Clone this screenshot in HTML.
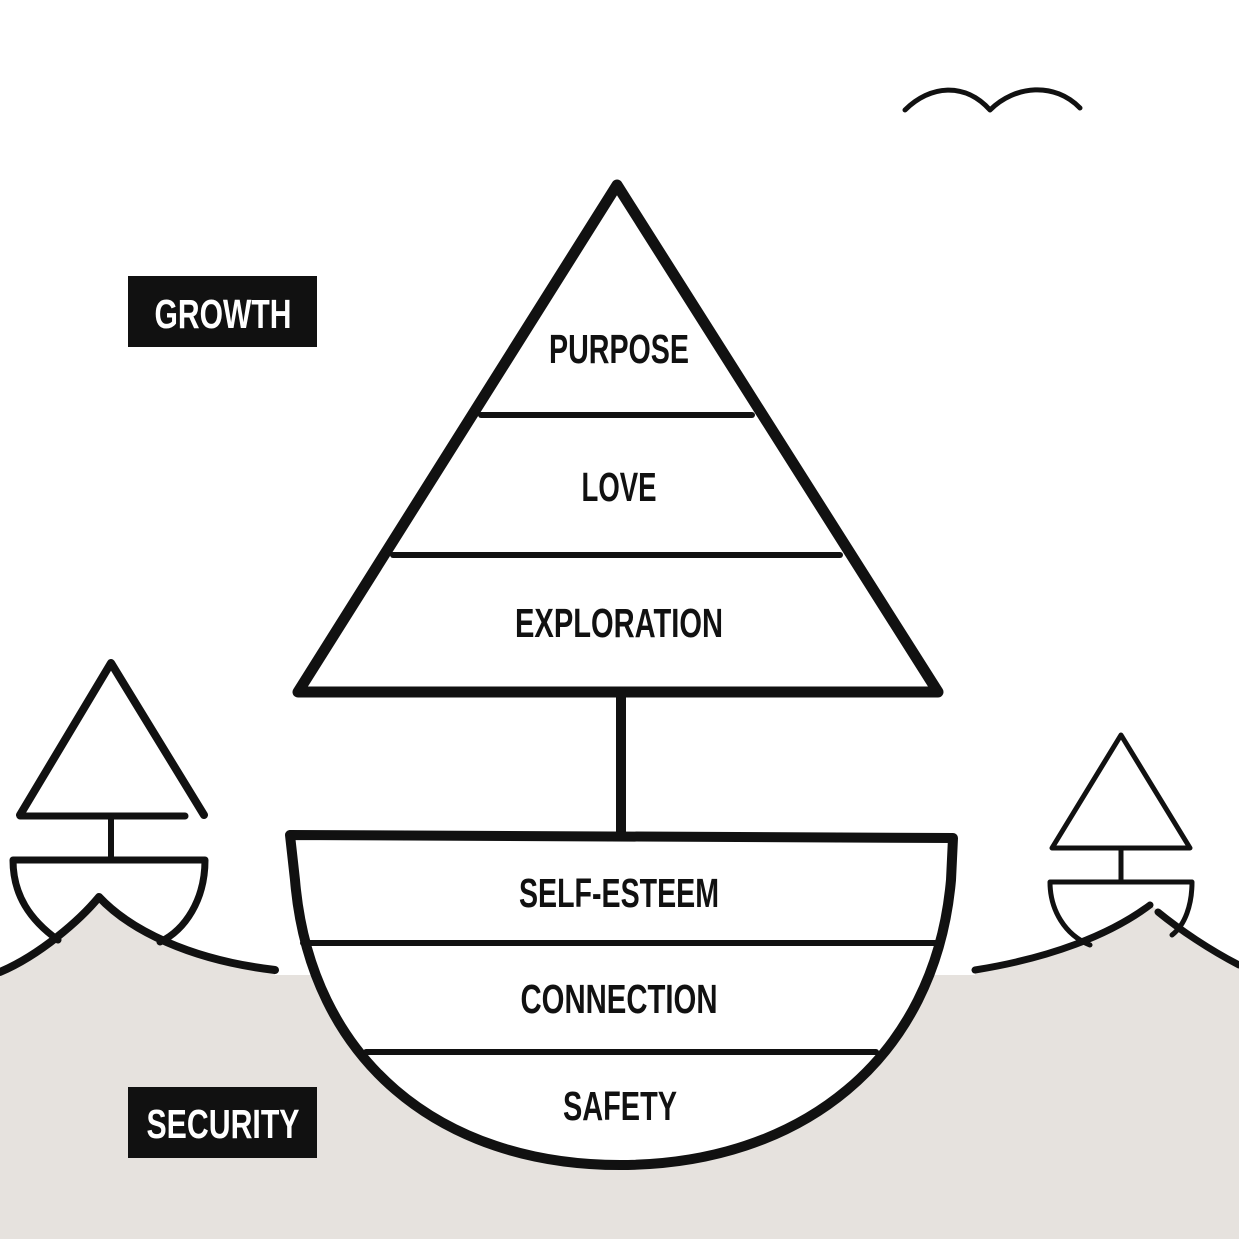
<!DOCTYPE html>
<html><head><meta charset="utf-8"><style>
html,body{margin:0;padding:0;background:#fff;}
svg{display:block}
text{font-family:"Liberation Sans Narrow","Liberation Sans",sans-serif;font-weight:bold;font-size:41px;}
</style></head><body>
<svg width="1239" height="1239" viewBox="0 0 1239 1239" xmlns="http://www.w3.org/2000/svg">
<rect width="1239" height="1239" fill="#fff"/>
<!-- beige ground -->
<rect x="0" y="975" width="1239" height="264" fill="#e6e2de"/>
<path d="M0,972 C40,955 80,920 99,897 C130,930 190,960 275,970 L275,980 L0,980Z" fill="#e6e2de"/>
<path d="M975,970 C1050,958 1110,935 1150,905 L1158,910 C1180,930 1210,950 1239,965 L1239,980 L975,980Z" fill="#e6e2de"/>
<g fill="none" stroke="#111" stroke-linecap="round" stroke-linejoin="round">
<!-- birds -->
<path d="M905,110 C930,85 965,82 990,110 C1015,85 1055,82 1080,108" stroke-width="5"/>
<!-- big triangle -->
<path d="M617,185 L298,692 L938,692 Z" stroke-width="11"/>
<line x1="481" y1="415" x2="752" y2="415" stroke-width="6"/>
<line x1="393" y1="555" x2="840" y2="555" stroke-width="6"/>
<line x1="621" y1="692" x2="621" y2="835" stroke-width="10"/>
<!-- bowl -->
<path d="M290,835 L953,838 L951,880 C935,1060 800,1165 620,1165 C440,1165 310,1060 295,880 Z" fill="#fff" stroke-width="10"/>
<line x1="303" y1="943" x2="940" y2="943" stroke-width="6"/>
<line x1="366" y1="1052" x2="876" y2="1052" stroke-width="6"/>
<!-- left boat -->
<path d="M20,815 L111,663 L204,815" stroke-width="8"/>
<line x1="20" y1="816" x2="185" y2="816" stroke-width="7"/>
<line x1="111" y1="816" x2="111" y2="860" stroke-width="6"/>
<path d="M13,860 L205,860 C205,900 185,930 160,942 M13,860 C13,895 30,920 58,940" stroke-width="7"/>
<path d="M0,972 C40,955 80,920 99,897 C130,930 190,960 275,970" stroke-width="8"/>
<!-- right boat -->
<path d="M1121,735 L1052,848 L1190,848 Z" stroke-width="5"/>
<line x1="1121" y1="848" x2="1121" y2="882" stroke-width="5"/>
<path d="M1050,882 L1192,882 C1192,905 1185,925 1172,935 M1050,882 C1050,910 1065,935 1090,945" stroke-width="5"/>
<path d="M975,970 C1050,958 1110,935 1150,905" stroke-width="7"/>
<path d="M1158,912 C1180,930 1210,950 1239,965" stroke-width="7"/>
</g>
<!-- labels -->
<rect x="128" y="276" width="189" height="71" fill="#111"/>
<rect x="128" y="1087" width="189" height="71" fill="#111"/>
<g text-anchor="middle" fill="#111">
<text x="223" y="328" fill="#fff" textLength="137" lengthAdjust="spacingAndGlyphs">GROWTH</text>
<text x="223" y="1138" fill="#fff" textLength="153" lengthAdjust="spacingAndGlyphs">SECURITY</text>
<text x="619" y="363" textLength="140" lengthAdjust="spacingAndGlyphs">PURPOSE</text>
<text x="619" y="501" textLength="75" lengthAdjust="spacingAndGlyphs">LOVE</text>
<text x="619" y="637" textLength="208" lengthAdjust="spacingAndGlyphs">EXPLORATION</text>
<text x="619" y="907" textLength="200" lengthAdjust="spacingAndGlyphs">SELF-ESTEEM</text>
<text x="619" y="1013" textLength="197" lengthAdjust="spacingAndGlyphs">CONNECTION</text>
<text x="620" y="1120" textLength="114" lengthAdjust="spacingAndGlyphs">SAFETY</text>
</g>
</svg>
</body></html>
